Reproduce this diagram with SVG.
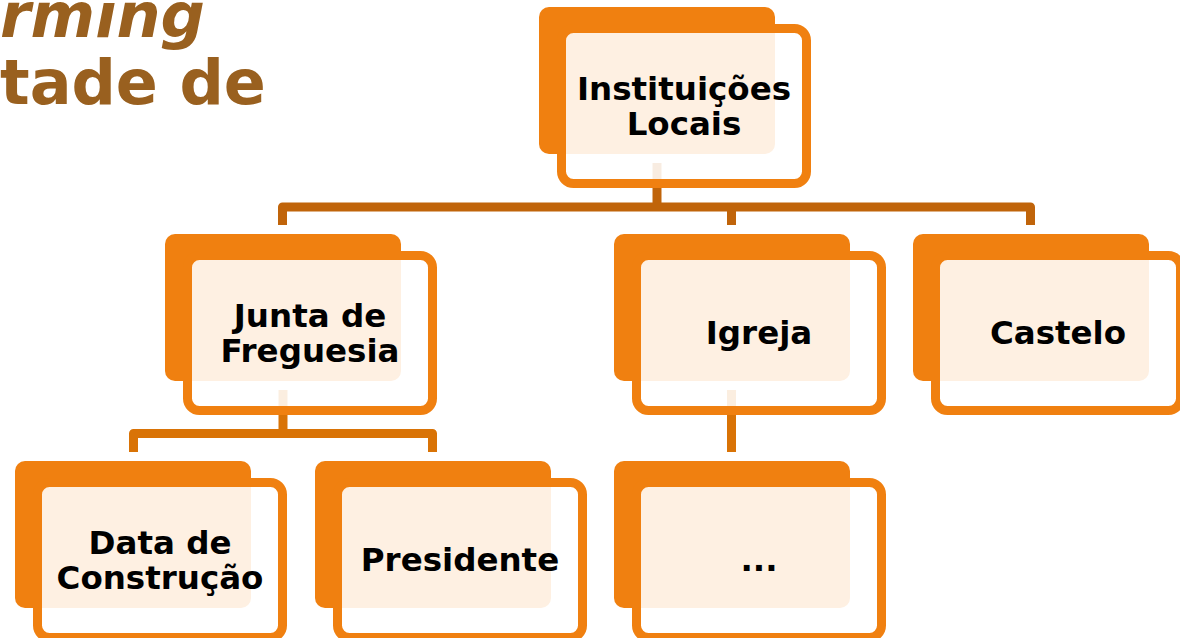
<svg xmlns="http://www.w3.org/2000/svg" width="1180" height="638" viewBox="0 0 1180 638">
<style>
.back{fill:#F08010}
.front{fill:#FFFFFF;fill-opacity:0.88;stroke:#F08010;stroke-width:9}
.lbl{font-family:"DejaVu Sans","Liberation Sans",sans-serif;font-weight:bold;font-size:32.5px;fill:#000000;text-anchor:middle}
.title{font-family:"DejaVu Sans","Liberation Sans",sans-serif;font-weight:bold;font-size:62px;fill:#99601F}
.c1{fill:none;stroke:#C0640A;stroke-width:9;stroke-linejoin:round}
.c2{fill:none;stroke:#D97306;stroke-width:9;stroke-linejoin:round}
</style>
<rect width="1180" height="638" fill="#FFFFFF"/>
<g id="title">
<text class="title" x="0" y="37" font-style="italic">rming</text>
<text class="title" x="0" y="104">tade de</text>
</g>
<g id="connectors">
<path class="c1" d="M657,163 V207"/>
<path class="c1" d="M282.5,225 V207 H1030.5 V225"/>
<path class="c1" d="M731.5,207 V225"/>
<path class="c2" d="M283,390 V433.5"/>
<path class="c2" d="M133.5,452 V433.5 H432.5 V452"/>
<path class="c2" d="M731.5,390 V452"/>
</g>
<g id="node-instituicoes">
<rect class="back" x="539" y="7" width="236" height="147" rx="10"/>
<rect class="front" x="561.5" y="28.5" width="245" height="155" rx="12"/>
<text class="lbl" x="684" y="100">Instituições</text>
<text class="lbl" x="684" y="135">Locais</text>
</g>
<g id="node-junta">
<rect class="back" x="165" y="234" width="236" height="147" rx="10"/>
<rect class="front" x="187.5" y="255.5" width="245" height="155" rx="12"/>
<text class="lbl" x="310" y="327">Junta de</text>
<text class="lbl" x="310" y="362">Freguesia</text>
</g>
<g id="node-igreja">
<rect class="back" x="614" y="234" width="236" height="147" rx="10"/>
<rect class="front" x="636.5" y="255.5" width="245" height="155" rx="12"/>
<text class="lbl" x="759" y="344">Igreja</text>
</g>
<g id="node-castelo">
<rect class="back" x="913" y="234" width="236" height="147" rx="10"/>
<rect class="front" x="935.5" y="255.5" width="245" height="155" rx="12"/>
<text class="lbl" x="1058" y="344">Castelo</text>
</g>
<g id="node-data">
<rect class="back" x="15" y="461" width="236" height="147" rx="10"/>
<rect class="front" x="37.5" y="482.5" width="245" height="155" rx="12"/>
<text class="lbl" x="160" y="554">Data de</text>
<text class="lbl" x="160" y="589">Construção</text>
</g>
<g id="node-presidente">
<rect class="back" x="315" y="461" width="236" height="147" rx="10"/>
<rect class="front" x="337.5" y="482.5" width="245" height="155" rx="12"/>
<text class="lbl" x="460" y="571">Presidente</text>
</g>
<g id="node-more">
<rect class="back" x="614" y="461" width="236" height="147" rx="10"/>
<rect class="front" x="636.5" y="482.5" width="245" height="155" rx="12"/>
<text class="lbl" x="759" y="571">...</text>
</g>
</svg>
